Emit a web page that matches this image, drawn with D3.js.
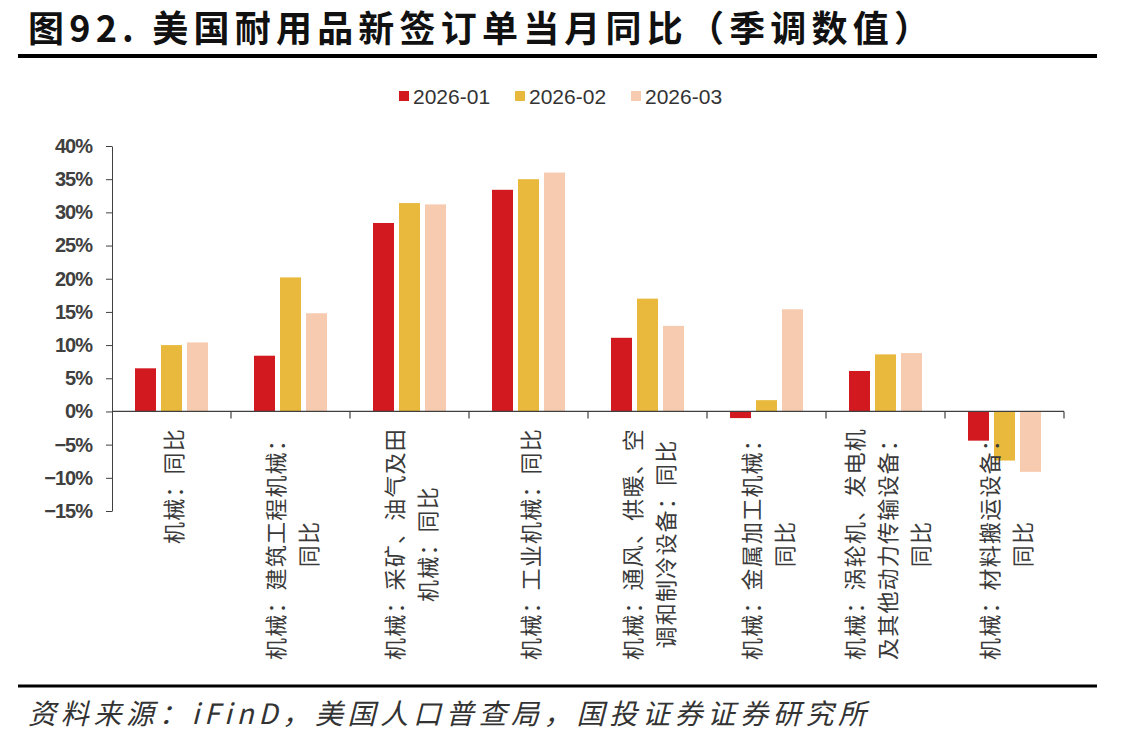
<!DOCTYPE html>
<html><head><meta charset="utf-8">
<script src="https://cdn.jsdelivr.net/npm/d3@7"></script>
<style>
html,body{margin:0;padding:0;background:#fff;}
svg{display:block;}
</style></head>
<body>
<svg id="chart" width="1145" height="744"></svg>
<script>
// ---- data ----
const categories = ["机械：同比","机械：建筑工程机械：同比","机械：采矿、油气及田机械：同比","机械：工业机械：同比","机械：通风、供暖、空调和制冷设备：同比","机械：金属加工机械：同比","机械：涡轮机、发电机及其他动力传输设备：同比","机械：材料搬运设备：同比"];
const labelLines = [
  ["机械：同比"],
  ["机械：建筑工程机械：","同比"],
  ["机械：采矿、油气及田","机械：同比"],
  ["机械：工业机械：同比"],
  ["机械：通风、供暖、空","调和制冷设备：同比"],
  ["机械：金属加工机械：","同比"],
  ["机械：涡轮机、发电机","及其他动力传输设备：","同比"],
  ["机械：材料搬运设备：","同比"]
];
const seriesNames = ["2026-01","2026-02","2026-03"];
const values2601 = [6.5, 8.4, 28.4, 33.4, 11.1, -1.0, 6.1, -4.4];
const values2602 = [10.0, 20.2, 31.4, 35.0, 17.0, 1.7, 8.6, -7.4];
const values2603 = [10.4, 14.8, 31.2, 36.0, 12.9, 15.4, 8.8, -9.1];
const yTicks = [-15,-10,-5,0,5,10,15,20,25,30,35,40];
const colors = ["#D1191F","#E8B93D","#F7CBB0"];
const titleText = "图92. 美国耐用品新签订单当月同比（季调数值）";
const sourceText = "资料来源：iFinD，美国人口普查局，国投证券证券研究所";

const seriesValues = [values2601, values2602, values2603];
const axisColor = "#404040";

const svg = d3.select("#chart");

// title
svg.append("text").attr("x", 28).attr("y", 42)
  .attr("font-family", "'Noto Sans CJK SC'").attr("font-weight", 700)
  .attr("font-size", 36).attr("letter-spacing", 5.2).attr("fill", "#111")
  .text(titleText);
svg.append("line").attr("x1", 18).attr("x2", 1097).attr("y1", 56).attr("y2", 56)
  .attr("stroke", "#000").attr("stroke-width", 4);

// footer
svg.append("line").attr("x1", 18).attr("x2", 1097).attr("y1", 686).attr("y2", 686)
  .attr("stroke", "#000").attr("stroke-width", 3);
svg.append("text").attr("x", 28).attr("y", 724)
  .attr("font-family", "'Noto Sans CJK SC'").attr("font-style", "italic")
  .attr("font-size", 28).attr("letter-spacing", 4.7).attr("fill", "#333")
  .text(sourceText);

// scales
const x = d3.scaleBand().domain(categories).range([112, 1064]).padding(0);
const x1 = d3.scaleBand().domain(seriesNames).range([23, 96]).paddingInner(5/26).paddingOuter(0);
const y = d3.scaleLinear().domain([-15, 40]).range([511, 146]);

// bars
const g = svg.append("g");
categories.forEach((c, i) => {
  seriesNames.forEach((s, j) => {
    const v = seriesValues[j][i];
    g.append("rect")
      .attr("x", x(c) + x1(s))
      .attr("width", x1.bandwidth())
      .attr("y", y(Math.max(0, v)))
      .attr("height", Math.abs(y(v) - y(0)))
      .attr("fill", colors[j]);
  });
});

// y axis
const yAxis = d3.axisLeft(y).tickValues(yTicks).tickSize(6).tickSizeOuter(0)
  .tickFormat(d => (d < 0 ? "−" : "") + Math.abs(d) + "%");
const ya = svg.append("g").attr("transform", "translate(112,0)").call(yAxis);
ya.select(".domain").attr("stroke", axisColor);
ya.selectAll(".tick line").attr("stroke", axisColor);
ya.selectAll(".tick text").attr("x", -20)
  .attr("font-family", "'Liberation Sans', Arial, sans-serif").attr("font-weight", 700)
  .attr("font-size", 20).attr("letter-spacing", -1).attr("fill", axisColor);

// x axis (zero line) with ticks at category boundaries
svg.append("line").attr("x1", x.range()[0]).attr("x2", x.range()[1])
  .attr("y1", y(0)).attr("y2", y(0)).attr("stroke", axisColor).attr("stroke-width", 1.2);
categories.forEach(c => {
  const bx = x(c) + x.bandwidth();
  svg.append("line").attr("x1", bx).attr("x2", bx).attr("y1", y(0)).attr("y2", y(0) + 7)
    .attr("stroke", axisColor).attr("stroke-width", 1.2);
});

// category labels (rotated, lines centered, block top anchored)
const labelTop = 428;
const lineGap = 33;
categories.forEach((c, i) => {
  const lines = labelLines[i];
  const cx = x(c) + x.bandwidth() / 2;
  const texts = lines.map((ln, k) => {
    return svg.append("text")
      .attr("font-family", "'Noto Sans CJK SC'")
      .attr("font-size", 22).attr("letter-spacing", 1.2)
      .attr("fill", "#3a3a3a")
      .attr("text-anchor", "middle")
      .attr("dominant-baseline", "central")
      .text(ln);
  });
  const maxW = d3.max(texts, t => t.node().getComputedTextLength());
  const cy = labelTop + maxW / 2;
  texts.forEach((t, k) => {
    const lx = cx + (k - (lines.length - 1) / 2) * lineGap;
    t.attr("transform", `translate(${lx},${cy}) rotate(-90)`);
  });
});

// legend
const legendX = [399, 515, 631];
seriesNames.forEach((s, j) => {
  svg.append("rect").attr("x", legendX[j]).attr("y", 91).attr("width", 10).attr("height", 10)
    .attr("fill", colors[j]);
  svg.append("text").attr("x", legendX[j] + 14).attr("y", 96)
    .attr("dominant-baseline", "central")
    .attr("font-family", "'Liberation Sans', Arial, sans-serif")
    .attr("font-size", 21).attr("fill", "#333").text(s);
});
</script>
</body></html>
